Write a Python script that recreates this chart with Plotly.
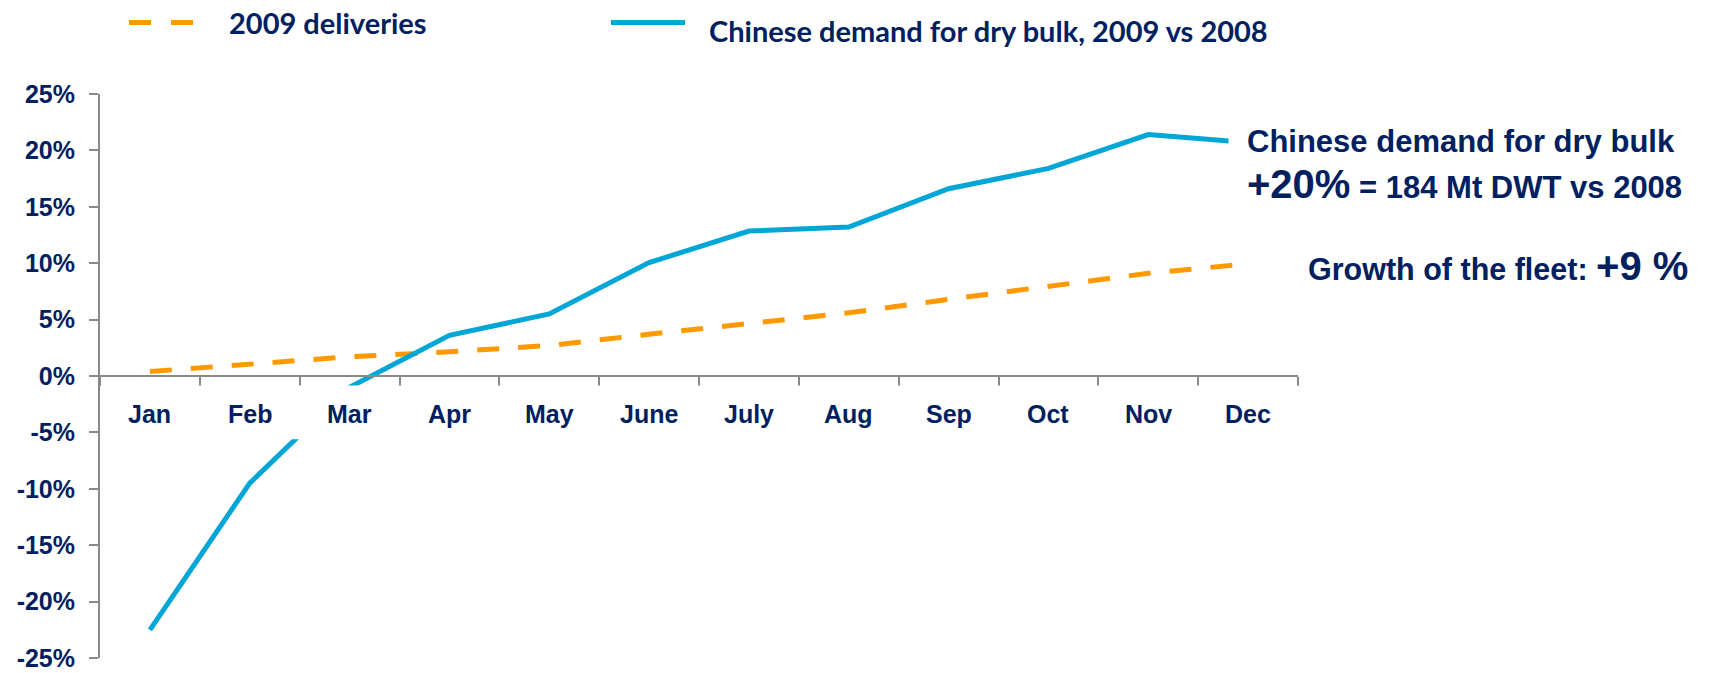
import plotly.graph_objects as go

# Monthly series, 2009 (percent)
months = ["Jan", "Feb", "Mar", "Apr", "May", "June", "July", "Aug", "Sep", "Oct", "Nov", "Dec"]
deliveries_2009 = [0.4, 1.0, 1.7, 2.15, 2.7, 3.7, 4.65, 5.6, 6.8, 8.0, 9.1, 9.95]
china_demand = [-22.5, -9.5, -1.0, 3.6, 5.5, 10.05, 12.85, 13.2, 16.6, 18.4, 21.4, 20.7]

y_tick_values = [25, 20, 15, 10, 5, 0, -5, -10, -15, -20, -25]
y_tick_labels = ["25%", "20%", "15%", "10%", "5%", "0%", "-5%", "-10%", "-15%", "-20%", "-25%"]

legend_names = ["2009 deliveries", "Chinese demand for dry bulk, 2009 vs 2008"]

NAVY = "#002060"
ORANGE = "#FF9900"
BLUE = "#00A6D6"
GREY = "#898989"
ARIAL = "Liberation Sans, Arial, sans-serif"
LEGEND_FONT = "Lato, Carlito, Calibri, sans-serif"

W, H = 1711, 673
L, R, T, B = 100, 413, 94, 15
plot_w = W - L - R
plot_h = H - T - B


def px_x(px):
    return (px - L) / plot_w


def px_y(py):
    return (H - B - py) / plot_h


fig = go.Figure()

fig.add_trace(go.Scatter(
    x=months, y=deliveries_2009, mode="lines", name=legend_names[0],
    line=dict(color=ORANGE, width=5, dash="22px,19px"),
    showlegend=False, hoverinfo="skip",
))
fig.add_trace(go.Scatter(
    x=months, y=china_demand, mode="lines", name=legend_names[1],
    line=dict(color=BLUE, width=5),
    showlegend=False, hoverinfo="skip",
))

shapes = [
    # white band behind the month labels
    dict(type="rect", xref="x", yref="y", x0=-0.48, x1=11.5, y0=-5.6, y1=-0.85,
         fillcolor="white", line=dict(width=0), layer="above"),
    # legend keys
    dict(type="line", xref="paper", yref="paper",
         x0=px_x(129), x1=px_x(194), y0=px_y(22.5), y1=px_y(22.5),
         line=dict(color=ORANGE, width=5, dash="22px,20px")),
    dict(type="line", xref="paper", yref="paper",
         x0=px_x(611), x1=px_x(685), y0=px_y(22.5), y1=px_y(22.5),
         line=dict(color=BLUE, width=5)),
]

annotations = []
for m in months:
    annotations.append(dict(
        x=m, y=-3.4, xref="x", yref="y", text=m, showarrow=False,
        xanchor="center", yanchor="middle",
        font=dict(family=ARIAL, size=25, color=NAVY, weight="bold"),
    ))

annotations += [
    dict(x=px_x(227), y=px_y(22), xref="paper", yref="paper", text=legend_names[0],
         showarrow=False, xanchor="left", yanchor="middle",
         font=dict(family=LEGEND_FONT, size=29, color=NAVY, weight="bold")),
    dict(x=px_x(707), y=px_y(30), xref="paper", yref="paper", text=legend_names[1],
         showarrow=False, xanchor="left", yanchor="middle",
         font=dict(family=LEGEND_FONT, size=29, color=NAVY, weight="bold")),
    dict(x=px_x(1228), y=px_y(165), xref="paper", yref="paper",
         text=("<span style='font-size:31px'>Chinese demand for dry bulk</span><br>"
               "<span style='font-size:40px'>+20%</span>"
               "<span style='font-size:31px'> = 184 Mt DWT vs 2008</span>"),
         showarrow=False, xanchor="left", yanchor="middle", align="left",
         bgcolor="white", borderpad=18,
         font=dict(family=ARIAL, size=35, color=NAVY, weight="bold")),
    dict(x=px_x(1306), y=px_y(266), xref="paper", yref="paper",
         text=("<span style='font-size:30.5px'>Growth of the fleet: </span>"
               "<span style='font-size:40px'>+9 %</span>"),
         showarrow=False, xanchor="left", yanchor="middle", align="left",
         font=dict(family=ARIAL, size=30, color=NAVY, weight="bold")),
]

fig.update_layout(
    width=W, height=H,
    margin=dict(l=L, r=R, t=T, b=B, pad=0, autoexpand=False),
    paper_bgcolor="white", plot_bgcolor="white",
    showlegend=False,
    shapes=shapes,
    annotations=annotations,
    xaxis=dict(
        type="category", categoryorder="array", categoryarray=months,
        range=[-0.5, 11.5], anchor="free", position=0.5,
        showline=True, linecolor=GREY, linewidth=2,
        ticks="outside", tickson="boundaries", ticklen=9, tickwidth=2, tickcolor=GREY,
        showticklabels=False, showgrid=False, zeroline=False, automargin=False,
    ),
    yaxis=dict(
        range=[-25, 25], tickvals=y_tick_values, ticktext=y_tick_labels,
        showline=True, linecolor=GREY, linewidth=2,
        ticks="outside", ticklen=9, tickwidth=2, tickcolor=GREY,
        ticklabelstandoff=9, ticklabeloverflow="allow", automargin=False,
        tickfont=dict(family=ARIAL, size=25, color=NAVY, weight="bold"),
        showgrid=False, zeroline=False,
    ),
)

fig.write_html("out.html")
